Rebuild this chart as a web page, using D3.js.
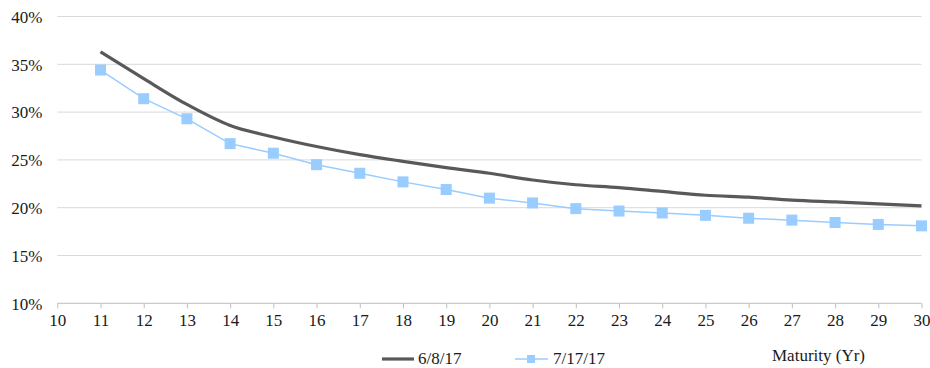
<!DOCTYPE html>
<html><head><meta charset="utf-8">
<script src="https://cdn.jsdelivr.net/npm/d3@7"></script>
<style>body{margin:0;background:#fff}svg{display:block}</style>
</head><body>
<script>
const maturities = [11,12,13,14,15,16,17,18,19,20,21,22,23,24,25,26,27,28,29,30];
const series1Name = "6/8/17";
const series1 = [36.3,33.5,30.8,28.6,27.4,26.4,25.55,24.85,24.2,23.6,22.9,22.4,22.1,21.7,21.3,21.1,20.8,20.6,20.4,20.2];
const series2Name = "7/17/17";
const series2 = [34.4,31.4,29.3,26.7,25.7,24.5,23.6,22.7,21.9,21.0,20.5,19.9,19.65,19.45,19.2,18.9,18.7,18.45,18.25,18.1];
const yTicks = [10,15,20,25,30,35,40];
const xTicks = d3.range(10,31);
const xTitle = "Maturity (Yr)";

const FONT = "'Liberation Serif'";
const FS = "17px";
const W=930,H=368;
const svg=d3.select("body").append("svg").attr("width",W).attr("height",H);
const x=d3.scaleLinear().domain([10,30]).range([57.3,921.5]);
const y=d3.scaleLinear().domain([10,40]).range([303.3,16.5]);

svg.append("g").selectAll("line").data(yTicks.filter(d=>d>10)).join("line")
  .attr("x1",x(10)).attr("x2",x(30)).attr("y1",d=>y(d)).attr("y2",d=>y(d))
  .attr("stroke","#d9d9d9").attr("stroke-width",1);

const yAxis=d3.axisLeft(y).tickValues(yTicks).tickFormat(d=>d+"%").tickSize(0).tickPadding(15);
const gy=svg.append("g").attr("transform",`translate(${x(10)},0)`).call(yAxis);
gy.select(".domain").remove();
gy.selectAll("text").style("font-family",FONT).style("font-size",FS).attr("fill","#1a1a1a").attr("dy","0.34em");

const xAxis=d3.axisBottom(x).tickValues(xTicks).tickFormat(d3.format("d")).tickSize(5).tickPadding(6);
const gx=svg.append("g").attr("transform",`translate(0,${y(10)})`).call(xAxis);
gx.select(".domain").attr("stroke","#bfbfbf").attr("d",`M${x(10)},0H${x(30)}`);
gx.selectAll(".tick line").attr("stroke","#bfbfbf");
gx.selectAll("text").style("font-family",FONT).style("font-size",FS).attr("fill","#1a1a1a");

const line1=d3.line().x((d,i)=>x(maturities[i])).y(d=>y(d)).curve(d3.curveMonotoneX);
const line2=d3.line().x((d,i)=>x(maturities[i])).y(d=>y(d));
svg.append("path").datum(series2).attr("d",line2).attr("fill","none").attr("stroke","#99ccff").attr("stroke-width",1.5);
svg.append("g").selectAll("rect").data(series2).join("rect")
  .attr("x",(d,i)=>x(maturities[i])-5.5).attr("y",d=>y(d)-5.5).attr("width",11).attr("height",11)
  .attr("fill","#99ccff");
svg.append("path").datum(series1).attr("d",line1).attr("fill","none").attr("stroke","#595959").attr("stroke-width",3.2).attr("stroke-linejoin","round");

const lg=svg.append("g");
lg.append("line").attr("x1",382).attr("x2",414).attr("y1",359).attr("y2",359).attr("stroke","#595959").attr("stroke-width",3.2);
lg.append("text").attr("x",418).attr("y",358).attr("dy","0.34em").style("font-family",FONT).style("font-size",FS).attr("fill","#1a1a1a").text(series1Name);
lg.append("line").attr("x1",515).attr("x2",548).attr("y1",359).attr("y2",359).attr("stroke","#99ccff").attr("stroke-width",1.5);
lg.append("rect").attr("x",527).attr("y",355).attr("width",8).attr("height",8).attr("fill","#99ccff");
lg.append("text").attr("x",553).attr("y",358).attr("dy","0.34em").style("font-family",FONT).style("font-size",FS).attr("fill","#1a1a1a").text(series2Name);
svg.append("text").attr("x",772).attr("y",355).attr("dy","0.34em").style("font-family",FONT).style("font-size",FS).attr("fill","#1a1a1a").text(xTitle);
</script>
</body></html>
